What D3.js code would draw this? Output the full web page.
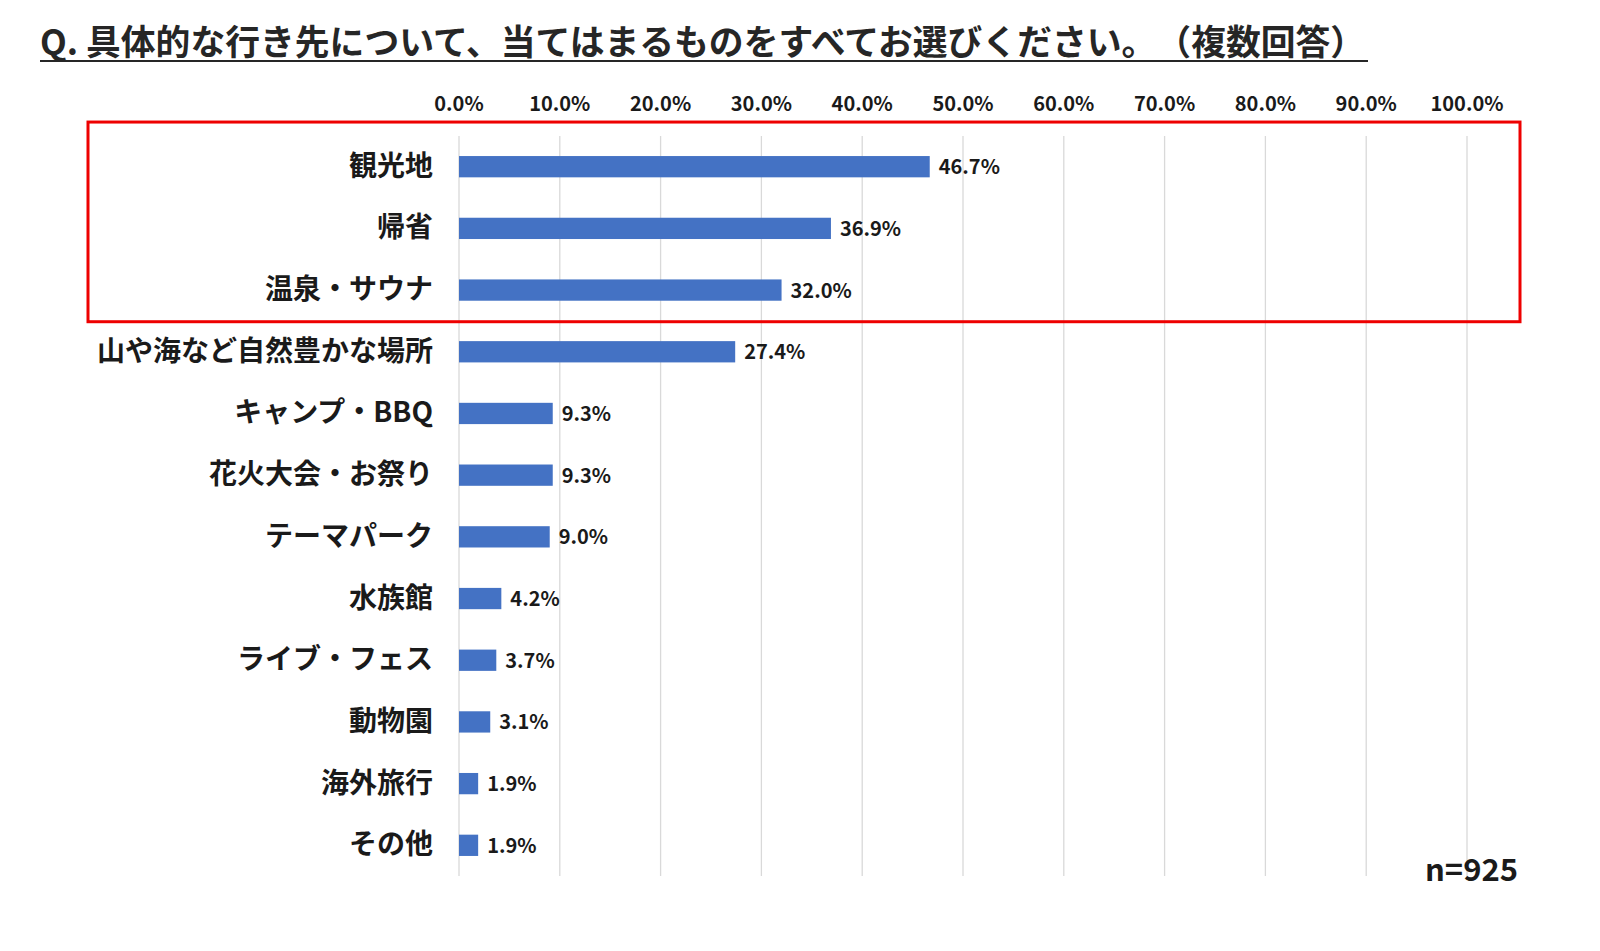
<!DOCTYPE html>
<html><head><meta charset="utf-8">
<script src="https://cdn.jsdelivr.net/npm/d3@7"></script>
<style>
html,body{margin:0;padding:0;background:#fff;}
svg{display:block;font-family:"Noto Sans CJK JP","Noto Sans",sans-serif;}
svg text{text-spacing-trim:space-all;}
</style></head>
<body>
<svg id="chart" width="1600" height="951"></svg>
<script>
const title = "Q. 具体的な行き先について、当てはまるものをすべてお選びください。（複数回答）";
const categories = ["観光地","帰省","温泉・サウナ","山や海など自然豊かな場所","キャンプ・BBQ","花火大会・お祭り","テーマパーク","水族館","ライブ・フェス","動物園","海外旅行","その他"];
const values = [46.7,36.9,32.0,27.4,9.3,9.3,9.0,4.2,3.7,3.1,1.9,1.9];
const ticks = [0,10,20,30,40,50,60,70,80,90,100];
const highlighted = ["観光地","帰省","温泉・サウナ"];
const note = "n=925";

const svg = d3.select("#chart");
const x = d3.scaleLinear().domain([0,100]).range([459,1467]);
const y = d3.scaleBand().domain(categories).range([136,876]).paddingInner(0.655).paddingOuter(0.325);

// title
const t = svg.append("text").attr("x",40).attr("y",55)
  .attr("font-size",34.8).attr("font-weight","bold").attr("fill","#262626").text(title);
const tb = t.node().getBBox();
const titleEnd = Math.min(tb.x+tb.width+4, 1368);
svg.append("line").attr("x1",40).attr("x2",titleEnd).attr("y1",61).attr("y2",61)
  .attr("stroke","#262626").attr("stroke-width",2);

// gridlines
svg.append("g").selectAll("line").data(ticks).join("line")
  .attr("x1",d=>x(d)).attr("x2",d=>x(d)).attr("y1",136).attr("y2",876)
  .attr("stroke","#d9d9d9").attr("stroke-width",1.3);

// top axis labels
svg.append("g").selectAll("text").data(ticks).join("text")
  .attr("x",d=>x(d)).attr("y",102).attr("text-anchor","middle").attr("dominant-baseline","central")
  .attr("font-size",20).attr("font-weight","bold").attr("fill","#1a1a1a")
  .text(d=>d.toFixed(1)+"%");

// bars
svg.append("g").selectAll("rect").data(categories).join("rect")
  .attr("x",x(0)).attr("y",d=>y(d)).attr("height",y.bandwidth())
  .attr("width",(d,i)=>x(values[i])-x(0)).attr("fill","#4472C4");

// category labels
svg.append("g").selectAll("text").data(categories).join("text")
  .attr("x",x(0)-26).attr("y",d=>y(d)+y.bandwidth()/2-3).attr("text-anchor","end")
  .attr("dominant-baseline","central").attr("font-size",28).attr("font-weight","bold")
  .attr("fill","#1a1a1a").text(d=>d);

// value labels
svg.append("g").selectAll("text").data(categories).join("text")
  .attr("x",(d,i)=>x(values[i])+9).attr("y",d=>y(d)+y.bandwidth()/2-1)
  .attr("dominant-baseline","central").attr("font-size",20).attr("font-weight","bold")
  .attr("fill","#1a1a1a").text((d,i)=>values[i].toFixed(1)+"%");

// highlight box
const hTop = y(highlighted[0]) - 34, hBot = y(highlighted[highlighted.length-1]) + y.bandwidth() + 21;
svg.append("rect").attr("x",88).attr("y",hTop).attr("width",1432).attr("height",hBot-hTop)
  .attr("fill","none").attr("stroke","#ee0000").attr("stroke-width",3);

// n note
svg.append("text").attr("x",1518).attr("y",867).attr("text-anchor","end").attr("dominant-baseline","central")
  .attr("font-size",31).attr("font-weight","bold").attr("fill","#1a1a1a").text(note);
</script>
</body></html>
